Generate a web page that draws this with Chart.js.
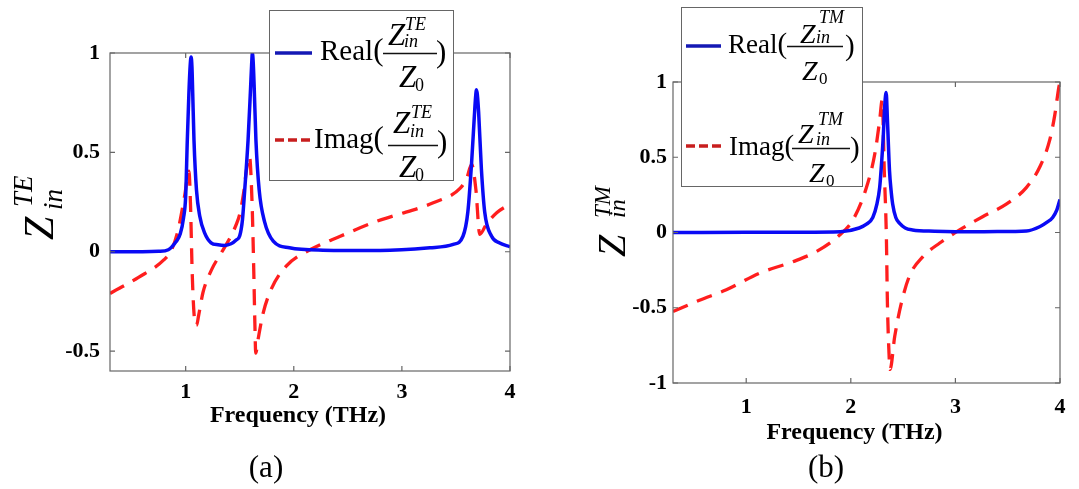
<!DOCTYPE html>
<html>
<head>
<meta charset="utf-8">
<title>Z_in TE / TM</title>
<script src="https://cdn.jsdelivr.net/npm/chart.js@4.4.1/dist/chart.umd.min.js"></script>
<style>
  html, body { margin: 0; padding: 0; background: #fff; }
  #page { position: relative; width: 1079px; height: 489px; overflow: hidden; }
  canvas { position: absolute; top: 0; }
  #te { left: 0; }
  #tm { left: 540px; }
  svg { position: absolute; left: 0; top: 0; font-family: "Liberation Serif", "Times New Roman", serif; }
  .it { font-style: italic; }
</style>
</head>
<body>
<div id="page">
  <canvas id="te" width="540" height="489"></canvas>
  <canvas id="tm" width="539" height="489"></canvas>
  <svg width="1079" height="489">
    <!-- y axis titles -->
    <g transform="translate(53,240) rotate(-90)">
      <text class="it" font-size="42">Z</text>
      <text class="it" x="33" y="-21" font-size="27">TE</text>
      <text class="it" x="30" y="9" font-size="27">in</text>
    </g>
    <g transform="translate(625,257) rotate(-90)">
      <text class="it" font-size="40">Z</text>
      <text class="it" x="39" y="-15" font-size="23">TM</text>
      <text class="it" x="39" y="0" font-size="24">in</text>
    </g>

    <!-- legend (a) -->
    <rect x="269.5" y="10.5" width="184" height="170" fill="#fff" stroke="#666"/>
    <line x1="275" y1="53" x2="312" y2="53" stroke="#1418b4" stroke-width="3.5"/>
    <text x="320" y="60" font-size="29">Real<tspan font-size="31">(</tspan></text>
    <text class="it" x="388" y="45" font-size="31">Z</text>
    <text class="it" x="405" y="30" font-size="18">TE</text>
    <text class="it" x="404" y="47" font-size="18">in</text>
    <line x1="383" y1="53.5" x2="437" y2="53.5" stroke="#111" stroke-width="1.3"/>
    <text class="it" x="399" y="87" font-size="31">Z</text>
    <text x="415" y="91" font-size="18">0</text>
    <text x="436" y="62" font-size="31">)</text>

    <line x1="275" y1="140" x2="312" y2="140" stroke="#c81e1e" stroke-width="3.5" stroke-dasharray="9,4"/>
    <text x="314" y="148" font-size="29">Imag<tspan font-size="31">(</tspan></text>
    <text class="it" x="393" y="133" font-size="31">Z</text>
    <text class="it" x="411" y="118" font-size="18">TE</text>
    <text class="it" x="410" y="137" font-size="18">in</text>
    <line x1="388" y1="145.5" x2="438" y2="145.5" stroke="#111" stroke-width="1.3"/>
    <text class="it" x="399" y="177" font-size="31">Z</text>
    <text x="415" y="181" font-size="18">0</text>
    <text x="437" y="152" font-size="31">)</text>

    <!-- legend (b) -->
    <rect x="681.5" y="7.5" width="181" height="179" fill="#fff" stroke="#666"/>
    <line x1="686" y1="46" x2="721" y2="46" stroke="#1418b4" stroke-width="3.5"/>
    <text x="728" y="53" font-size="27">Real<tspan font-size="29">(</tspan></text>
    <text class="it" x="800" y="43" font-size="28">Z</text>
    <text class="it" x="819" y="23" font-size="18">TM</text>
    <text class="it" x="816" y="43" font-size="18">in</text>
    <line x1="787" y1="46.5" x2="843" y2="46.5" stroke="#111" stroke-width="1.3"/>
    <text class="it" x="802" y="80" font-size="28">Z</text>
    <text x="819" y="84" font-size="17">0</text>
    <text x="845" y="55" font-size="29">)</text>

    <line x1="686" y1="146" x2="721" y2="146" stroke="#c81e1e" stroke-width="3.5" stroke-dasharray="9,4"/>
    <text x="729" y="155" font-size="27">Imag<tspan font-size="29">(</tspan></text>
    <text class="it" x="798" y="143" font-size="28">Z</text>
    <text class="it" x="818" y="125" font-size="18">TM</text>
    <text class="it" x="816" y="145" font-size="18">in</text>
    <line x1="792" y1="148.5" x2="850" y2="148.5" stroke="#111" stroke-width="1.3"/>
    <text class="it" x="809" y="182" font-size="28">Z</text>
    <text x="826" y="186" font-size="17">0</text>
    <text x="850" y="157" font-size="29">)</text>

    <!-- panel labels -->
    <text x="266" y="477" font-size="31" text-anchor="middle">(a)</text>
    <text x="826" y="477" font-size="31" text-anchor="middle">(b)</text>
  </svg>
</div>
<script>
// ---- data ----
const xTicks = [1, 2, 3, 4];
const teYTicks = [-0.5, 0, 0.5, 1];
const tmYTicks = [-1, -0.5, 0, 0.5, 1];

// (a) TE
const teRealFreq = [0.3, 0.6, 0.75, 0.84, 0.91, 0.95, 0.98, 1.0, 1.015, 1.03, 1.042, 1.05, 1.058, 1.065, 1.077, 1.1,
  1.13, 1.175, 1.235, 1.3, 1.36, 1.42, 1.47, 1.5, 1.525, 1.546, 1.577, 1.6, 1.61, 1.617, 1.625, 1.633, 1.65,
  1.68, 1.73, 1.81, 1.96, 2.27, 2.8, 3.26, 3.475, 3.565, 3.61, 3.645, 3.67, 3.682, 3.69, 3.698, 3.71,
  3.735, 3.766, 3.83, 3.9, 4.0];
const teReal = [0, 0, 0.002, 0.01, 0.05, 0.09, 0.17, 0.28, 0.56, 0.8, 0.94, 0.98, 0.93, 0.8, 0.56, 0.31,
  0.18, 0.095, 0.045, 0.035, 0.032, 0.04, 0.06, 0.08, 0.16, 0.31, 0.56, 0.82, 0.94, 1.0, 0.95, 0.84, 0.56,
  0.31, 0.15, 0.053, 0.02, 0.008, 0.006, 0.02, 0.037, 0.078, 0.2, 0.45, 0.68, 0.78, 0.815, 0.79, 0.7,
  0.42, 0.2, 0.078, 0.045, 0.025];

const teImagFreq = [0.3, 0.56, 0.8, 0.87, 0.93, 0.99, 1.03, 1.045, 1.06, 1.077, 1.1, 1.12, 1.16, 1.24, 1.33, 1.42,
  1.47, 1.5, 1.537, 1.565, 1.59, 1.615, 1.63, 1.64, 1.648, 1.67, 1.716, 1.79, 1.93, 2.15, 2.43, 2.77,
  2.92, 3.29, 3.54, 3.6, 3.645, 3.685, 3.72, 3.78, 3.877, 4.0];
const teImag = [-0.21, -0.13, -0.04, 0.01, 0.11, 0.28, 0.405, 0.23, -0.1, -0.31, -0.37, -0.32, -0.205, -0.09, -0.005, 0.08,
  0.14, 0.19, 0.3, 0.42, 0.48, 0.23, -0.1, -0.36, -0.51, -0.44, -0.31, -0.19, -0.072, 0.01, 0.078, 0.154,
  0.18, 0.246, 0.32, 0.37, 0.44, 0.31, 0.087, 0.137, 0.196, 0.24];

// (b) TM
const tmRealFreq = [0.3, 1.0, 1.5, 1.9, 2.08, 2.15, 2.21, 2.25, 2.276, 2.29, 2.31, 2.325, 2.338, 2.35, 2.37, 2.385,
  2.4, 2.43, 2.467, 2.52, 2.59, 2.8, 3.0, 3.4, 3.68, 3.81, 3.88, 3.93, 3.97, 4.0];
const tmReal = [0, 0.001, 0.002, 0.005, 0.03, 0.055, 0.1, 0.19, 0.3, 0.42, 0.635, 0.85, 0.93, 0.75, 0.41, 0.28,
  0.19, 0.1, 0.06, 0.03, 0.017, 0.008, 0.005, 0.006, 0.01, 0.04, 0.07, 0.1, 0.15, 0.22];

const tmImagFreq = [0.3, 0.553, 0.81, 1.127, 1.446, 1.67, 1.893, 2.02, 2.15, 2.23, 2.276, 2.3, 2.32, 2.34, 2.35, 2.365,
  2.375, 2.42, 2.483, 2.56, 2.69, 2.85, 3.04, 3.26, 3.49, 3.68, 3.81, 3.9, 3.95, 3.99, 4.0];
const tmImag = [-0.525, -0.45, -0.38, -0.27, -0.194, -0.127, -0.017, 0.083, 0.3, 0.525, 0.746, 0.88, 0.41, -0.03, -0.47, -0.8,
  -0.91, -0.69, -0.47, -0.29, -0.16, -0.07, 0.017, 0.105, 0.19, 0.3, 0.44, 0.61, 0.78, 0.97, 1.0];

// ---- chart setup ----
Chart.defaults.font.family = '"Liberation Serif", "Times New Roman", serif';
Chart.defaults.color = '#000';

const BLUE = '#0a0af5';
const RED = '#ff1e1e';

const toPoints = (xs, ys) => xs.map((x, i) => ({ x, y: ys[i] }));

// MATLAB style box with inward ticks
const boxPlugin = {
  id: 'matlabBox',
  afterDatasetsDraw(chart) {
    const { ctx, chartArea: a, scales: { x, y } } = chart;
    ctx.save();
    ctx.strokeStyle = '#666';
    ctx.lineWidth = 1.2;
    ctx.strokeRect(a.left, a.top, a.right - a.left, a.bottom - a.top);
    ctx.beginPath();
    x.ticks.forEach((t) => {
      const px = x.getPixelForValue(t.value);
      ctx.moveTo(px, a.bottom); ctx.lineTo(px, a.bottom - 5);
      ctx.moveTo(px, a.top); ctx.lineTo(px, a.top + 5);
    });
    y.ticks.forEach((t) => {
      const py = y.getPixelForValue(t.value);
      ctx.moveTo(a.left, py); ctx.lineTo(a.left + 5, py);
      ctx.moveTo(a.right, py); ctx.lineTo(a.right - 5, py);
    });
    ctx.stroke();
    ctx.restore();
  },
};

function makeChart(id, c) {
  return new Chart(document.getElementById(id), {
    type: 'line',
    data: {
      datasets: [
        {
          label: 'Real',
          data: toPoints(c.realX, c.realY),
          borderColor: BLUE,
          borderWidth: 3.5,
          pointRadius: 0,
          cubicInterpolationMode: 'monotone',
        },
        {
          label: 'Imag',
          data: toPoints(c.imagX, c.imagY),
          borderColor: RED,
          borderWidth: 3.3,
          borderDash: [16, 10],
          pointRadius: 0,
          cubicInterpolationMode: 'monotone',
        },
      ],
    },
    options: {
      responsive: false,
      animation: false,
      layout: { padding: { top: c.top, right: c.right, bottom: c.bottom, left: 0 } },
      plugins: { legend: { display: false }, tooltip: { enabled: false } },
      scales: {
        x: {
          type: 'linear',
          min: 0.3,
          max: 4,
          afterBuildTicks: (s) => { s.ticks = xTicks.map((v) => ({ value: v })); },
          afterFit: (s) => { s.height = c.xh; },
          grid: { display: false, drawTicks: false },
          border: { display: false },
          ticks: { padding: c.xpad, font: { size: 22, weight: 'bold' }, maxRotation: 0 },
          title: {
            display: true,
            text: 'Frequency (THz)\u2003',
            padding: 0,
            font: { size: 24, weight: 'bold' },
          },
        },
        y: {
          min: c.ymin,
          max: 1,
          afterBuildTicks: (s) => { s.ticks = c.yTicks.map((v) => ({ value: v })); },
          afterFit: (s) => { s.width = c.yw; },
          grid: { display: false, drawTicks: false },
          border: { display: false },
          ticks: { padding: c.ypad, font: { size: 22, weight: 'bold' }, callback: (v) => String(v) },
        },
      },
    },
    plugins: [boxPlugin],
  });
}

makeChart('te', {
  realX: teRealFreq, realY: teReal, imagX: teImagFreq, imagY: teImag,
  ymin: -0.6, yTicks: teYTicks,
  top: 53, right: 30, bottom: 59, xh: 59, yw: 110, xpad: 8, ypad: 10,
});

makeChart('tm', {
  realX: tmRealFreq, realY: tmReal, imagX: tmImagFreq, imagY: tmImag,
  ymin: -1, yTicks: tmYTicks,
  top: 82, right: 19, bottom: 42, xh: 64, yw: 133, xpad: 11, ypad: 6,
});
</script>
</body>
</html>
